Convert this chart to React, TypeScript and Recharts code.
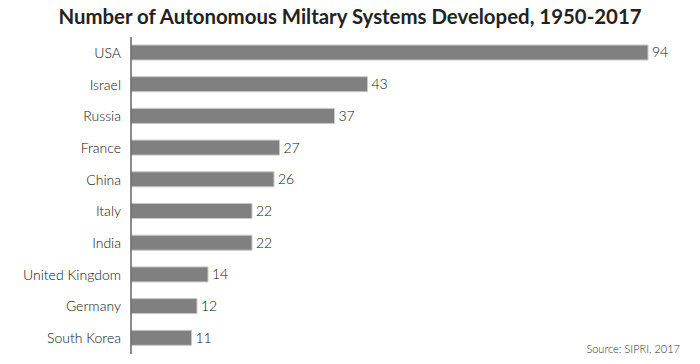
import React from "react";
import { BarChart, Bar, XAxis, YAxis, LabelList } from "recharts";

const countries = [
  "USA",
  "Israel",
  "Russia",
  "France",
  "China",
  "Italy",
  "India",
  "United Kingdom",
  "Germany",
  "South Korea",
];
const systems = [94, 43, 37, 27, 26, 22, 22, 14, 12, 11];

const data = countries.map((name, i) => ({ name, systems: systems[i] }));

const font = "Lato, 'Noto Sans', sans-serif";

export default function App() {
  return (
    <div style={{ position: "absolute", left: 0, top: 0, width: 700, height: 364, background: "#fff" }}>
      <div
        style={{
          position: "absolute",
          top: 4,
          left: 0,
          width: 700,
          textAlign: "center",
          fontFamily: font,
          fontWeight: 700,
          fontSize: 20.4,
          color: "#222",
        }}
      >
        Number of Autonomous Miltary Systems Developed, 1950-2017
      </div>
      <BarChart
        width={700}
        height={364}
        data={data}
        layout="vertical"
        margin={{ top: 37, right: 52, left: 0, bottom: 10 }}
        barSize={15}
      >
        <XAxis type="number" domain={[0, 94]} hide />
        <YAxis
          type="category"
          dataKey="name"
          width={131}
          tickLine={false}
          axisLine={{ stroke: "#666", strokeWidth: 1.5 }}
          tick={{ fill: "#111", fontSize: 14, fontFamily: font, fontWeight: 300 }}
          tickMargin={4}
        />
        <Bar dataKey="systems" fill="#808080" stroke="#c8c8c8" strokeWidth={1} isAnimationActive={false}>
          <LabelList
            dataKey="systems"
            position="right"
            offset={4}
            style={{ fill: "#111", fontSize: 14, fontFamily: font, fontWeight: 300 }}
          />
        </Bar>
      </BarChart>
      <div
        style={{
          position: "absolute",
          right: 20,
          top: 342,
          fontFamily: font,
          fontSize: 11,
          fontWeight: 300,
          color: "#333",
        }}
      >
        Source: SIPRI, 2017
      </div>
    </div>
  );
}
